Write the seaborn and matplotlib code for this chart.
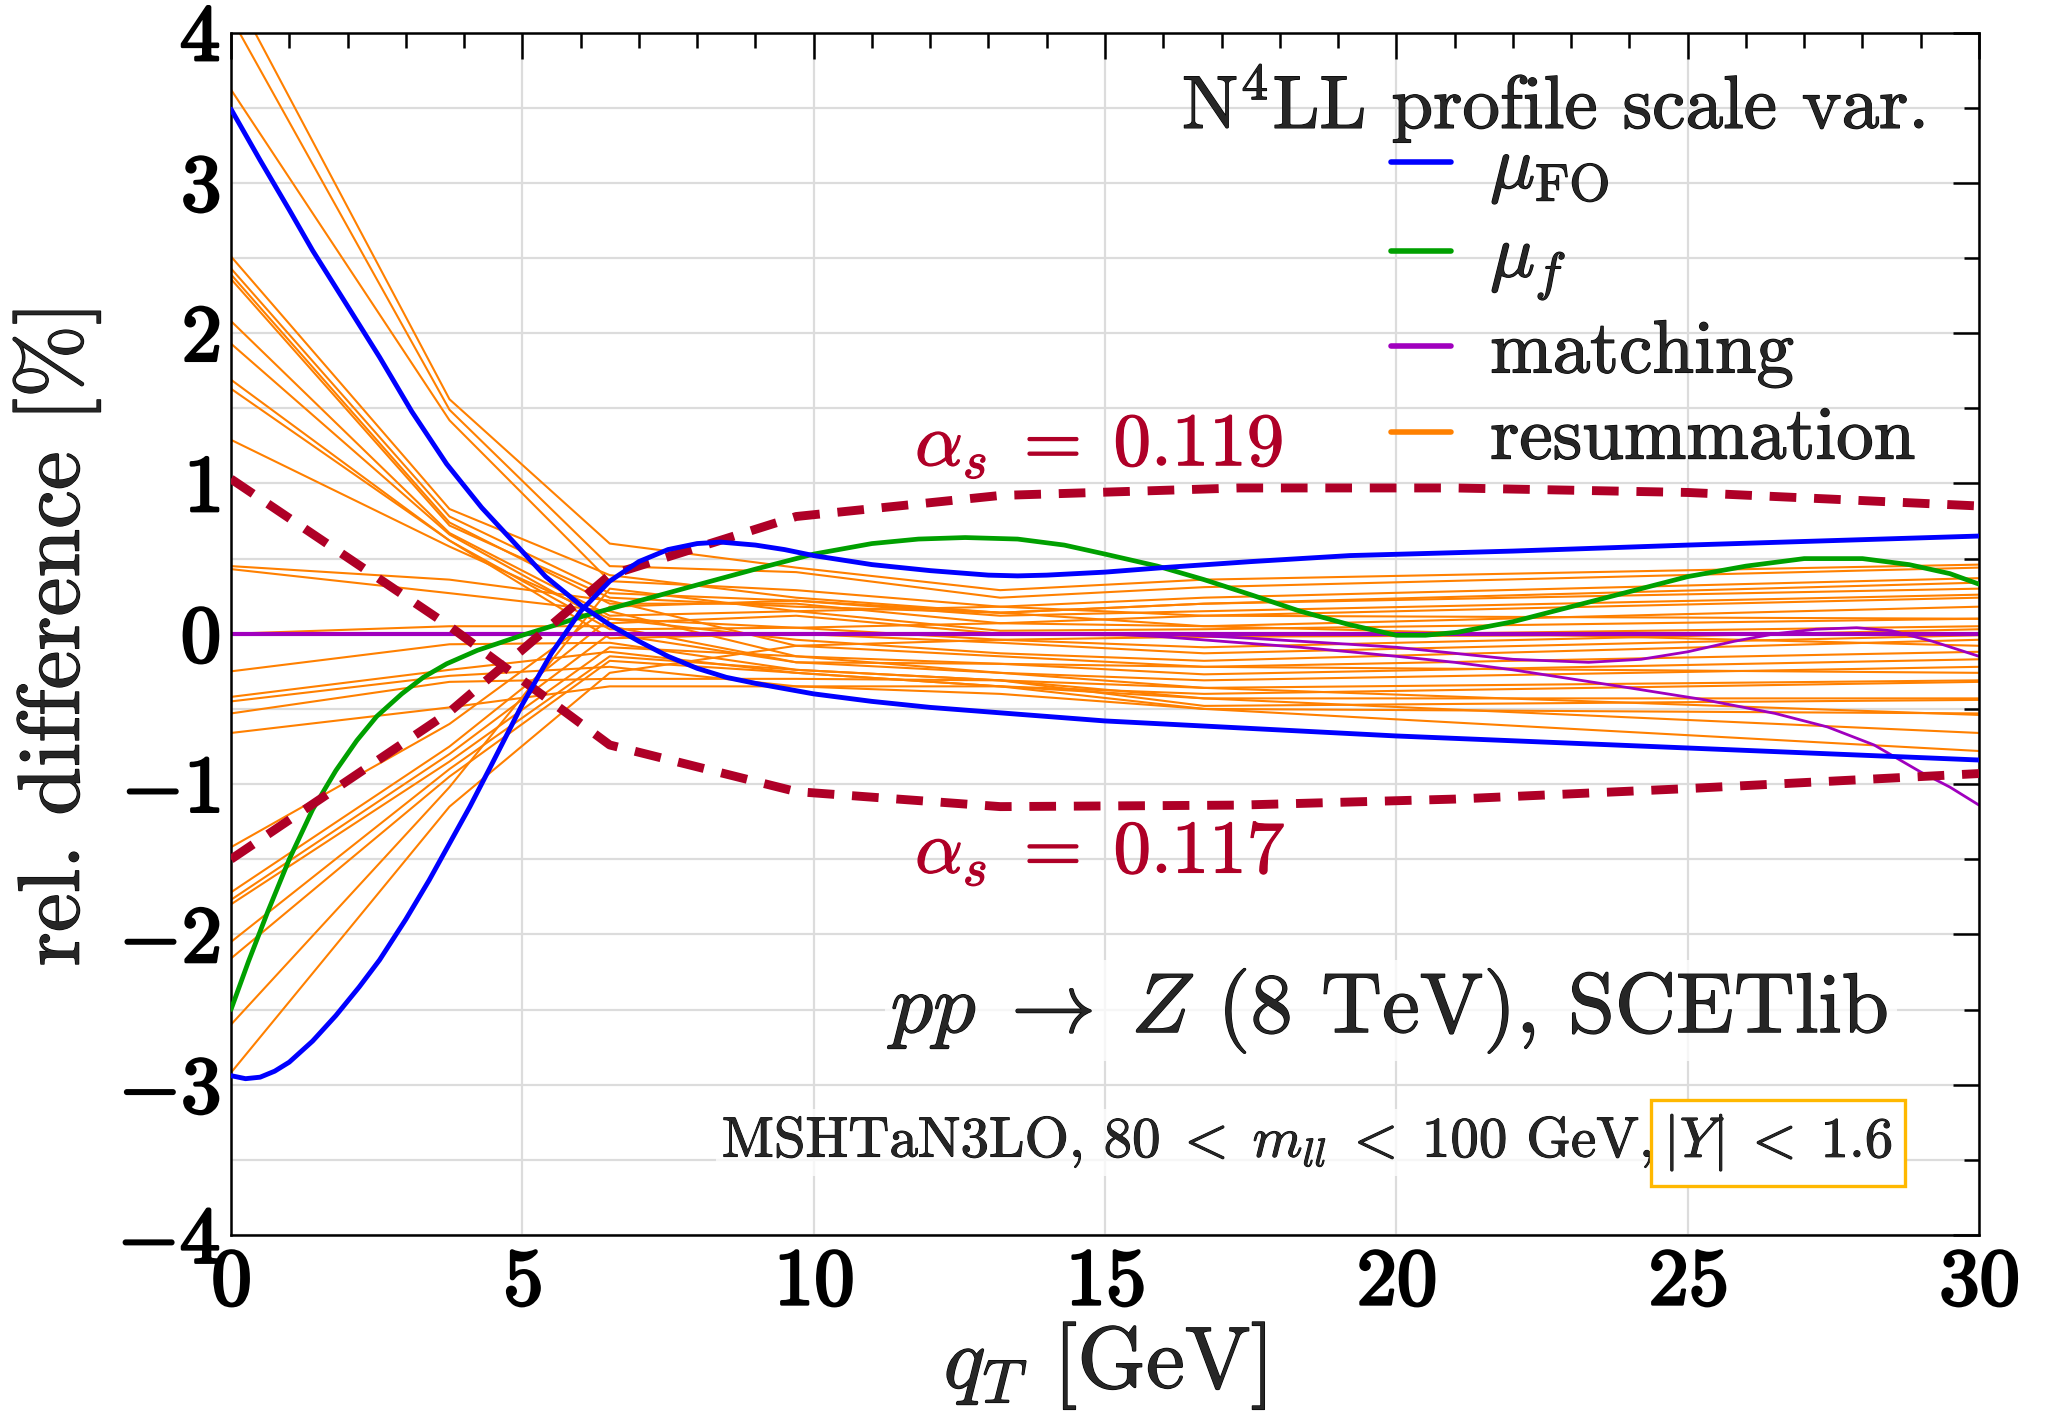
import numpy as np
import pandas as pd
import matplotlib
matplotlib.use('Agg')
import matplotlib.pyplot as plt
import matplotlib.patheffects as pe
import seaborn as sns
from matplotlib.lines import Line2D
from matplotlib.ticker import MultipleLocator, FuncFormatter

# ---------------- data ----------------
# mu_FO variations
fo_up_x = [0, 0.5, 1.0, 1.4, 2.0, 2.55, 3.1, 3.7, 4.3, 4.85, 5.4, 6.0, 6.5, 7.0, 7.5, 8.0,
           8.5, 9.0, 10, 11, 12, 13, 15, 17.5, 20, 22.5, 25, 27.5, 30]
fo_up_y = [3.49, 3.15, 2.82, 2.55, 2.18, 1.84, 1.48, 1.13, 0.84, 0.61, 0.38, 0.19, 0.06, -0.05,
           -0.15, -0.23, -0.29, -0.33, -0.40, -0.45, -0.49, -0.52, -0.58, -0.63, -0.68, -0.72,
           -0.76, -0.80, -0.84]
fo_dn_x = [0, 0.25, 0.5, 0.75, 1.0, 1.4, 1.8, 2.2, 2.55, 3.0, 3.4, 3.7, 4.1, 4.46, 5.0, 5.5,
           6.0, 6.5, 7.0, 7.5, 8.0, 8.4, 9.0, 9.5, 10, 11, 12, 13, 13.5, 14, 15, 16, 17.5, 19.2,
           22, 25, 27.5, 30]
fo_dn_y = [-2.94, -2.96, -2.95, -2.91, -2.85, -2.71, -2.54, -2.35, -2.17, -1.90, -1.64, -1.43,
           -1.15, -0.88, -0.47, -0.13, 0.15, 0.35, 0.48, 0.56, 0.60, 0.61, 0.59, 0.56, 0.52,
           0.46, 0.42, 0.39, 0.385, 0.39, 0.41, 0.44, 0.48, 0.52, 0.55, 0.59, 0.62, 0.65]

# mu_f variation
muf_x = [0, 0.3, 0.63, 1.0, 1.4, 1.8, 2.16, 2.5, 2.93, 3.3, 3.7, 4.23, 5.0, 5.5, 6.07, 7.2, 8.05,
         9, 10, 11, 11.8, 12.6, 13.5, 14.3, 15, 15.9, 16.7, 17.5, 18.35, 19.2, 20, 20.5, 21.05,
         22, 23.3, 24.2, 25, 26, 27, 28, 28.8, 29.5, 30]
muf_y = [-2.5, -2.18, -1.85, -1.50, -1.17, -0.91, -0.71, -0.55, -0.40, -0.29, -0.20, -0.11, -0.01,
         0.05, 0.12, 0.24, 0.33, 0.43, 0.53, 0.60, 0.63, 0.64, 0.63, 0.59, 0.53, 0.45, 0.36, 0.26,
         0.15, 0.06, -0.01, -0.01, 0.01, 0.08, 0.21, 0.30, 0.38, 0.45, 0.50, 0.50, 0.46, 0.40, 0.33]

# matching variations
match0_x = [0, 15, 30]
match0_y = [0, 0, 0]
match1_x = [0, 15, 16, 17, 18.35, 19.2, 20, 21, 22, 23, 24, 25.3, 26.5, 27.4, 28.2, 29, 29.5, 30]
match1_y = [0, 0, -0.02, -0.05, -0.09, -0.12, -0.15, -0.19, -0.24, -0.30, -0.36, -0.44, -0.53,
            -0.62, -0.74, -0.92, -1.02, -1.14]
match2_x = [0, 16, 17.5, 18.35, 19.2, 20, 21, 22, 23.3, 24.2, 25, 25.8, 26.5, 27.2, 27.9, 28.5,
            29.2, 30]
match2_y = [0, 0, -0.03, -0.05, -0.07, -0.09, -0.13, -0.17, -0.19, -0.17, -0.12, -0.05, 0.0,
            0.03, 0.04, 0.02, -0.05, -0.15]

# alpha_s variations
as_x = [0, 3.75, 6.5, 9.7, 13.2, 17.3, 21, 25, 30]
as119_y = [-1.50, -0.52, 0.39, 0.78, 0.92, 0.97, 0.97, 0.94, 0.85]
as117_y = [1.03, 0.05, -0.74, -1.05, -1.15, -1.14, -1.10, -1.03, -0.93]

# resummation variations (values at the qT nodes)
resum_x = [0, 3.75, 6.5, 9.7, 13.2, 16.7, 30]
resum_y = [
    [4.30, 1.56, 0.60, 0.44, 0.29, 0.36, 0.46],
    [4.10, 1.49, 0.45, 0.41, 0.24, 0.31, 0.44],
    [3.62, 1.42, 0.35, 0.29, 0.18, 0.24, 0.37],
    [2.51, 0.83, 0.39, 0.24, 0.14, 0.20, 0.34],
    [2.43, 0.78, 0.27, 0.22, 0.12, 0.15, 0.26],
    [2.39, 0.74, 0.20, 0.20, 0.07, 0.12, 0.24],
    [2.36, 0.72, 0.24, 0.18, 0.14, 0.05, 0.18],
    [2.08, 0.67, 0.12, 0.15, 0.02, 0.03, 0.10],
    [1.93, 0.66, 0.07, 0.12, 0.00, -0.02, 0.05],
    [1.69, 0.62, 0.03, 0.04, -0.04, -0.09, 0.03],
    [1.63, 0.62, -0.03, 0.00, -0.06, -0.13, -0.01],
    [1.29, 0.58, 0.10, -0.04, -0.13, -0.18, -0.04],
    [0.45, 0.36, 0.22, -0.08, -0.15, -0.22, -0.12],
    [0.43, 0.27, 0.15, -0.15, -0.20, -0.27, -0.17],
    [0.00, 0.05, 0.05, -0.19, -0.26, -0.31, -0.22],
    [-0.25, -0.07, -0.06, -0.24, -0.31, -0.36, -0.31],
    [-0.42, -0.24, -0.12, -0.26, -0.35, -0.40, -0.32],
    [-0.45, -0.28, -0.22, -0.35, -0.35, -0.43, -0.43],
    [-0.53, -0.32, -0.30, -0.30, -0.31, -0.48, -0.44],
    [-0.66, -0.49, -0.35, -0.35, -0.40, -0.50, -0.53],
    [-1.42, -0.60, 0.18, 0.22, 0.14, 0.20, 0.30],
    [-1.72, -0.75, 0.10, 0.04, 0.07, 0.05, -0.08],
    [-1.77, -0.80, 0.00, -0.19, -0.20, -0.22, -0.26],
    [-1.80, -0.85, -0.09, -0.15, -0.26, -0.36, -0.54],
    [-2.05, -0.90, -0.15, -0.24, -0.31, -0.43, -0.66],
    [-2.16, -0.95, -0.18, -0.26, -0.35, -0.50, -0.78],
    [-2.60, -1.02, 0.30, 0.15, 0.18, 0.12, 0.10],
    [-2.92, -1.15, -0.26, -0.08, -0.04, -0.02, 0.00],
]

legend_labels = [r'$\mu_{\rm FO}$', r'$\mu_f$', 'matching', 'resummation']
legend_title = r'N$^4$LL profile scale var.'
x_ticks = [0, 5, 10, 15, 20, 25, 30]
y_ticks = [-4, -3, -2, -1, 0, 1, 2, 3, 4]

BLUE = '#0000FF'
GREEN = '#00A000'
PURPLE = '#A000BE'
ORANGE = '#FF8000'
CRIMSON = '#AF0027'
GOLD = '#FFB800'

# ---------------- style ----------------
sns.set_theme(style='white')
plt.rcParams.update({
    'font.family': 'serif',
    'font.serif': ['cmr10'],
    'mathtext.fontset': 'cm',
    'axes.formatter.use_mathtext': True,
    'axes.unicode_minus': False,
})

def heavy(col='black', w=0.45):
    return [pe.withStroke(linewidth=w, foreground=col)]

fig = plt.figure(figsize=(10.245, 7.06), dpi=200)
ax = fig.add_axes([0.11274, 0.12535, 0.85310, 0.85163])

# resummation (orange)
rows = []
for i, ys in enumerate(resum_y):
    for x, y in zip(resum_x, ys):
        rows.append((f'r{i}', x, y))
df_r = pd.DataFrame(rows, columns=['var', 'qT', 'diff'])
sns.lineplot(data=df_r, x='qT', y='diff', units='var', estimator=None, color=ORANGE,
             lw=0.75, ax=ax, legend=False, zorder=2)

ax.axhline(0, color='black', lw=0.8, zorder=2.4)

# matching (purple)
sns.lineplot(x=match0_x, y=match0_y, color=PURPLE, lw=1.5, ax=ax, zorder=2.5)
sns.lineplot(x=match1_x, y=match1_y, color=PURPLE, lw=1.0, ax=ax, zorder=2.5)
sns.lineplot(x=match2_x, y=match2_y, color=PURPLE, lw=1.0, ax=ax, zorder=2.5)

# mu_f (green)
sns.lineplot(x=muf_x, y=muf_y, color=GREEN, lw=1.7, ax=ax, zorder=3)

# alpha_s (crimson dashed)
sns.lineplot(x=as_x, y=as119_y, color=CRIMSON, lw=3.2, ax=ax, zorder=3.5)
ax.lines[-1].set_dashes([3.0, 2.0])
sns.lineplot(x=as_x, y=as117_y, color=CRIMSON, lw=3.2, ax=ax, zorder=3.5)
ax.lines[-1].set_dashes([3.0, 2.0])

# mu_FO (blue)
sns.lineplot(x=fo_up_x, y=fo_up_y, color=BLUE, lw=1.75, ax=ax, zorder=4)
sns.lineplot(x=fo_dn_x, y=fo_dn_y, color=BLUE, lw=1.75, ax=ax, zorder=4)

# ---------------- axes ----------------
ax.set_xlim(0, 30)
ax.set_ylim(-4, 4)
ax.set_xticks(x_ticks)
ax.set_yticks(y_ticks)
ax.xaxis.set_minor_locator(MultipleLocator(1))
ax.yaxis.set_minor_locator(MultipleLocator(0.5))
bold = FuncFormatter(lambda v, p: r'$\mathbf{%d}$' % int(round(v)))
ax.xaxis.set_major_formatter(bold)
ax.yaxis.set_major_formatter(bold)
ax.tick_params(which='both', direction='in', top=True, right=True, width=0.9,
               colors='black', labelsize=29)
ax.tick_params(which='major', length=9.4)
ax.tick_params(axis='y', which='major', pad=4)
ax.tick_params(axis='x', which='major', pad=5)
ax.tick_params(which='minor', length=5.4)
ax.grid(True, which='major', axis='x', color='#dcdcdc', lw=0.8)
ax.grid(True, which='both', axis='y', color='#dcdcdc', lw=0.8)
ax.set_axisbelow(True)
for s in ax.spines.values():
    s.set_color('black')
    s.set_linewidth(0.9)
for lab in ax.get_xticklabels() + ax.get_yticklabels():
    lab.set_path_effects(heavy(w=1.0))

ax.set_xlabel(r'$q_T$ [GeV]', fontsize=31.5, labelpad=0, path_effects=heavy())
ax.set_ylabel('rel. difference [%]', fontsize=31.5, labelpad=6, path_effects=heavy())

# ---------------- legend ----------------
ax.text(29.07, 3.365, legend_title, fontsize=27, ha='right', va='baseline', zorder=6,
        path_effects=heavy())
handles = [Line2D([], [], color=c, lw=2.0) for c in (BLUE, GREEN, PURPLE, ORANGE)]
leg = ax.legend(handles, legend_labels, loc='upper right',
                bbox_to_anchor=(0.9637, 0.914), frameon=False, fontsize=27,
                handlelength=0.8, handletextpad=0.52, labelspacing=0.235,
                borderpad=0, borderaxespad=0)
for t in leg.get_texts():
    t.set_path_effects(heavy())

# ---------------- annotations ----------------
ax.text(11.74, 1.12, r'$\alpha_s \;=\; 0.119$', color=CRIMSON, fontsize=27, ha='left',
        va='baseline', zorder=6, path_effects=heavy(CRIMSON))
ax.text(11.74, -1.59, r'$\alpha_s \;=\; 0.117$', color=CRIMSON, fontsize=27, ha='left',
        va='baseline', zorder=6, path_effects=heavy(CRIMSON))
ax.text(28.49, -2.65, r'$pp \;\to\; Z$ (8 TeV), SCETlib', fontsize=30.5, ha='right',
        va='baseline', zorder=6, path_effects=heavy(),
        bbox=dict(facecolor='white', edgecolor='none', alpha=0.75, pad=2))
ax.text(24.4, -3.48, r'MSHTaN3LO, $80 \;<\; m_{ll} \;<\; 100$ GeV,', fontsize=20.5,
        ha='right', va='baseline', zorder=6, path_effects=heavy(w=0.35),
        bbox=dict(facecolor='white', edgecolor='none', alpha=0.75, pad=2))
ax.text(28.52, -3.48, r'$|Y| \;<\; 1.6$', fontsize=20.5, ha='right', va='baseline', zorder=6,
        path_effects=heavy(w=0.35),
        bbox=dict(facecolor='white', edgecolor=GOLD, lw=1.2, boxstyle='square,pad=0.22'))

fig.savefig('out.png', dpi=200)
